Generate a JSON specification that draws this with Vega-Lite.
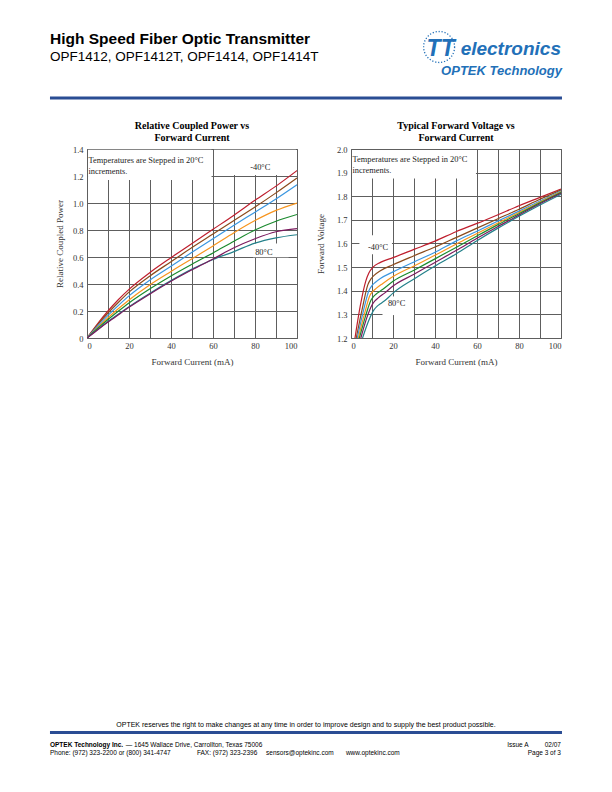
{
  "$schema": "https://vega.github.io/schema/vega-lite/v6.json",
  "background": "white",
  "padding": {"left": 48, "top": 28, "right": 5, "bottom": 5},
  "config": {
    "view": {"stroke": "#5a5a5a", "strokeWidth": 1},
    "axis": {"domain": false, "ticks": false, "grid": true, "gridColor": "#5e5e5e", "gridWidth": 1, "labelFont": "Liberation Serif", "labelFontSize": 8.5, "labelColor": "#333", "titleFont": "Liberation Serif", "titleFontSize": 9, "titleFontWeight": "normal", "titleColor": "#333", "labelPadding": 4}
  },
  "datasets": {
    "pw": [
      {"t":"-40","i":0,"p":0},{"t":"-40","i":5,"p":0.105},{"t":"-40","i":10,"p":0.2},{"t":"-40","i":15,"p":0.285},{"t":"-40","i":20,"p":0.36},{"t":"-40","i":30,"p":0.485},{"t":"-40","i":40,"p":0.595},{"t":"-40","i":50,"p":0.7},{"t":"-40","i":60,"p":0.805},{"t":"-40","i":70,"p":0.91},{"t":"-40","i":80,"p":1.02},{"t":"-40","i":90,"p":1.125},{"t":"-40","i":100,"p":1.24},
      {"t":"-20","i":0,"p":0},{"t":"-20","i":5,"p":0.097},{"t":"-20","i":10,"p":0.185},{"t":"-20","i":15,"p":0.265},{"t":"-20","i":20,"p":0.34},{"t":"-20","i":30,"p":0.46},{"t":"-20","i":40,"p":0.565},{"t":"-20","i":50,"p":0.67},{"t":"-20","i":60,"p":0.77},{"t":"-20","i":70,"p":0.87},{"t":"-20","i":80,"p":0.97},{"t":"-20","i":90,"p":1.075},{"t":"-20","i":100,"p":1.185},
      {"t":"0","i":0,"p":0},{"t":"0","i":5,"p":0.087},{"t":"0","i":10,"p":0.168},{"t":"0","i":15,"p":0.242},{"t":"0","i":20,"p":0.312},{"t":"0","i":30,"p":0.43},{"t":"0","i":40,"p":0.532},{"t":"0","i":50,"p":0.635},{"t":"0","i":60,"p":0.735},{"t":"0","i":70,"p":0.835},{"t":"0","i":80,"p":0.932},{"t":"0","i":90,"p":1.03},{"t":"0","i":100,"p":1.135},
      {"t":"20","i":0,"p":0},{"t":"20","i":5,"p":0.077},{"t":"20","i":10,"p":0.15},{"t":"20","i":15,"p":0.218},{"t":"20","i":20,"p":0.282},{"t":"20","i":30,"p":0.395},{"t":"20","i":40,"p":0.493},{"t":"20","i":50,"p":0.587},{"t":"20","i":60,"p":0.682},{"t":"20","i":70,"p":0.78},{"t":"20","i":80,"p":0.87},{"t":"20","i":90,"p":0.945},{"t":"20","i":100,"p":1.0},
      {"t":"40","i":0,"p":0},{"t":"40","i":5,"p":0.07},{"t":"40","i":10,"p":0.137},{"t":"40","i":15,"p":0.2},{"t":"40","i":20,"p":0.26},{"t":"40","i":30,"p":0.365},{"t":"40","i":40,"p":0.46},{"t":"40","i":50,"p":0.547},{"t":"40","i":60,"p":0.63},{"t":"40","i":70,"p":0.717},{"t":"40","i":80,"p":0.8},{"t":"40","i":90,"p":0.865},{"t":"40","i":100,"p":0.915},
      {"t":"80","i":0,"p":0},{"t":"80","i":5,"p":0.062},{"t":"80","i":10,"p":0.122},{"t":"80","i":15,"p":0.178},{"t":"80","i":20,"p":0.232},{"t":"80","i":30,"p":0.332},{"t":"80","i":40,"p":0.425},{"t":"80","i":50,"p":0.51},{"t":"80","i":60,"p":0.582},{"t":"80","i":70,"p":0.64},{"t":"80","i":80,"p":0.703},{"t":"80","i":90,"p":0.742},{"t":"80","i":100,"p":0.765},
      {"t":"60","i":0,"p":0},{"t":"60","i":5,"p":0.06},{"t":"60","i":10,"p":0.118},{"t":"60","i":15,"p":0.173},{"t":"60","i":20,"p":0.227},{"t":"60","i":30,"p":0.326},{"t":"60","i":40,"p":0.42},{"t":"60","i":50,"p":0.505},{"t":"60","i":60,"p":0.585},{"t":"60","i":70,"p":0.668},{"t":"60","i":80,"p":0.735},{"t":"60","i":90,"p":0.787},{"t":"60","i":100,"p":0.81}
    ],
    "fv": [
      {"t":"-40","i":1.9,"v":1.2},{"t":"-40","i":4.5,"v":1.34},{"t":"-40","i":7,"v":1.44},{"t":"-40","i":8.5,"v":1.475},{"t":"-40","i":10.5,"v":1.5},{"t":"-40","i":14,"v":1.52},{"t":"-40","i":20,"v":1.54},{"t":"-40","i":30,"v":1.575},{"t":"-40","i":40,"v":1.61},{"t":"-40","i":50,"v":1.65},{"t":"-40","i":60,"v":1.685},{"t":"-40","i":70,"v":1.722},{"t":"-40","i":80,"v":1.76},{"t":"-40","i":90,"v":1.795},{"t":"-40","i":100,"v":1.83},
      {"t":"-20","i":2.5,"v":1.2},{"t":"-20","i":5.5,"v":1.33},{"t":"-20","i":8,"v":1.425},{"t":"-20","i":9.5,"v":1.45},{"t":"-20","i":11,"v":1.465},{"t":"-20","i":14,"v":1.485},{"t":"-20","i":20,"v":1.51},{"t":"-20","i":30,"v":1.548},{"t":"-20","i":40,"v":1.585},{"t":"-20","i":50,"v":1.625},{"t":"-20","i":60,"v":1.665},{"t":"-20","i":70,"v":1.705},{"t":"-20","i":80,"v":1.745},{"t":"-20","i":90,"v":1.787},{"t":"-20","i":100,"v":1.826},
      {"t":"0","i":3,"v":1.2},{"t":"0","i":6,"v":1.318},{"t":"0","i":8.5,"v":1.4},{"t":"0","i":10,"v":1.422},{"t":"0","i":11.5,"v":1.435},{"t":"0","i":14,"v":1.452},{"t":"0","i":20,"v":1.48},{"t":"0","i":30,"v":1.522},{"t":"0","i":40,"v":1.563},{"t":"0","i":50,"v":1.61},{"t":"0","i":60,"v":1.652},{"t":"0","i":70,"v":1.695},{"t":"0","i":80,"v":1.737},{"t":"0","i":90,"v":1.78},{"t":"0","i":100,"v":1.822},
      {"t":"20","i":3.5,"v":1.2},{"t":"20","i":6.5,"v":1.305},{"t":"20","i":9,"v":1.38},{"t":"20","i":10.5,"v":1.398},{"t":"20","i":12,"v":1.41},{"t":"20","i":15,"v":1.43},{"t":"20","i":20,"v":1.46},{"t":"20","i":30,"v":1.505},{"t":"20","i":40,"v":1.55},{"t":"20","i":50,"v":1.597},{"t":"20","i":60,"v":1.642},{"t":"20","i":70,"v":1.687},{"t":"20","i":80,"v":1.731},{"t":"20","i":90,"v":1.776},{"t":"20","i":100,"v":1.819},
      {"t":"40","i":4,"v":1.2},{"t":"40","i":7,"v":1.295},{"t":"40","i":9.5,"v":1.36},{"t":"40","i":11,"v":1.378},{"t":"40","i":12.5,"v":1.39},{"t":"40","i":15,"v":1.405},{"t":"40","i":20,"v":1.44},{"t":"40","i":30,"v":1.487},{"t":"40","i":40,"v":1.535},{"t":"40","i":50,"v":1.583},{"t":"40","i":60,"v":1.632},{"t":"40","i":70,"v":1.68},{"t":"40","i":80,"v":1.726},{"t":"40","i":90,"v":1.772},{"t":"40","i":100,"v":1.816},
      {"t":"60","i":4.7,"v":1.2},{"t":"60","i":7.5,"v":1.285},{"t":"60","i":10,"v":1.34},{"t":"60","i":11.5,"v":1.358},{"t":"60","i":13,"v":1.37},{"t":"60","i":16,"v":1.39},{"t":"60","i":20,"v":1.42},{"t":"60","i":30,"v":1.47},{"t":"60","i":40,"v":1.52},{"t":"60","i":50,"v":1.57},{"t":"60","i":60,"v":1.622},{"t":"60","i":70,"v":1.672},{"t":"60","i":80,"v":1.72},{"t":"60","i":90,"v":1.768},{"t":"60","i":100,"v":1.812},
      {"t":"80","i":5.5,"v":1.2},{"t":"80","i":8.5,"v":1.275},{"t":"80","i":11,"v":1.32},{"t":"80","i":12.5,"v":1.335},{"t":"80","i":14,"v":1.345},{"t":"80","i":17,"v":1.365},{"t":"80","i":20,"v":1.39},{"t":"80","i":30,"v":1.45},{"t":"80","i":40,"v":1.505},{"t":"80","i":50,"v":1.556},{"t":"80","i":60,"v":1.612},{"t":"80","i":70,"v":1.665},{"t":"80","i":80,"v":1.715},{"t":"80","i":90,"v":1.763},{"t":"80","i":100,"v":1.808}
    ]
  },
  "spacing": 352,
  "vconcat": [
    {
      "spacing": 20,
      "vconcat": [
        {
          "width": 512, "height": 70,
          "view": {"stroke": null},
          "layer": [
            {"data": {"values": [{"s": "High Speed Fiber Optic Transmitter"}]},
             "mark": {"type": "text", "align": "left", "baseline": "alphabetic", "font": "Liberation Sans", "fontSize": 15.5, "fontWeight": "bold", "color": "#000"},
             "encoding": {"text": {"field": "s"}, "x": {"datum": 0, "type": "quantitative", "scale": {"domain": [0.0723, 1.0723], "nice": false}, "axis": null}, "y": {"datum": 0.8, "type": "quantitative", "scale": {"domain": [0, 1], "nice": false}, "axis": null}}},
            {"data": {"values": [{"s": "OPF1412, OPF1412T, OPF1414, OPF1414T"}]},
             "mark": {"type": "text", "align": "left", "baseline": "alphabetic", "font": "Liberation Sans", "fontSize": 13.5, "color": "#000"},
             "encoding": {"text": {"field": "s"}, "x": {"datum": 0, "type": "quantitative", "scale": {"domain": [0.0723, 1.0723], "nice": false}, "axis": null}, "y": {"datum": 0.564, "type": "quantitative", "scale": {"domain": [0, 1], "nice": false}, "axis": null}}},
            {"data": {"values": [{"s": "logo"}]},
             "mark": {"type": "point", "shape": "circle", "filled": false, "size": 960, "stroke": "#2270B8", "strokeWidth": 1.3, "strokeDash": [1.2, 1.8], "opacity": 1},
             "encoding": {"x": {"datum": 0.76, "type": "quantitative", "scale": {"domain": [0.0723, 1.0723], "nice": false}, "axis": null}, "y": {"datum": 0.757, "type": "quantitative", "scale": {"domain": [0, 1], "nice": false}, "axis": null}}},
            {"data": {"values": [{"s": "TT"}]},
             "mark": {"type": "text", "align": "center", "baseline": "alphabetic", "font": "Liberation Sans", "fontSize": 23, "fontWeight": "bold", "fontStyle": "italic", "color": "#2270B8"},
             "encoding": {"text": {"field": "s"}, "x": {"datum": 0.763, "type": "quantitative", "scale": {"domain": [0.0723, 1.0723], "nice": false}, "axis": null}, "y": {"datum": 0.63, "type": "quantitative", "scale": {"domain": [0, 1], "nice": false}, "axis": null}}},
            {"data": {"values": [{"s": "electronics"}]},
             "mark": {"type": "text", "align": "right", "baseline": "alphabetic", "font": "Liberation Sans", "fontSize": 19, "fontWeight": "bold", "fontStyle": "italic", "color": "#2270B8"},
             "encoding": {"text": {"field": "s"}, "x": {"datum": 0.998, "type": "quantitative", "scale": {"domain": [0.0723, 1.0723], "nice": false}, "axis": null}, "y": {"datum": 0.647, "type": "quantitative", "scale": {"domain": [0, 1], "nice": false}, "axis": null}}},
            {"data": {"values": [{"s": "OPTEK Technology"}]},
             "mark": {"type": "text", "align": "right", "baseline": "alphabetic", "font": "Liberation Sans", "fontSize": 13, "fontWeight": "bold", "fontStyle": "italic", "color": "#2270B8"},
             "encoding": {"text": {"field": "s"}, "x": {"datum": 1.0, "type": "quantitative", "scale": {"domain": [0.0723, 1.0723], "nice": false}, "axis": null}, "y": {"datum": 0.361, "type": "quantitative", "scale": {"domain": [0, 1], "nice": false}, "axis": null}}},
            {"data": {"values": [{"s": "rule"}]},
             "mark": {"type": "rule", "stroke": "#2A4D94", "strokeWidth": 3},
             "encoding": {"x": {"datum": 0, "type": "quantitative", "scale": {"domain": [0.0723, 1.0723], "nice": false}, "axis": null}, "x2": {"datum": 1.0}, "y": {"datum": 0.03, "type": "quantitative", "scale": {"domain": [0, 1], "nice": false}, "axis": null}}}
          ]
        },
        {
          "spacing": 17,
          "hconcat": [
            {
              "width": 210, "height": 189,
              "title": {"text": ["Relative Coupled Power vs", "Forward Current"], "font": "Liberation Serif", "fontSize": 10, "fontWeight": "bold", "color": "#000", "lineHeight": 11.5, "offset": 2.5},
              "layer": [
                {"data": {"values": [{"s": "box"}]}, "mark": {"type": "rect", "fill": "white", "stroke": null},
                 "encoding": {
                   "x": {"datum": 0.5, "type": "quantitative", "scale": {"domain": [0, 100], "nice": false}, "axis": {"values": [0,10,20,30,40,50,60,70,80,90,100], "labelExpr": "datum.value % 20 === 0 ? datum.label : ''", "labelPadding": 3, "titlePadding": 8, "title": "Forward Current (mA)"}},
                   "x2": {"datum": 59.3},
                   "y": {"datum": 1.17, "type": "quantitative", "scale": {"domain": [0, 1.4], "nice": false}, "axis": {"values": [0,0.2,0.4,0.6,0.8,1,1.2,1.4], "labelExpr": "datum.value === 0 ? '0' : format(datum.value, '.1f')", "titlePadding": 8, "title": "Relative Coupled Power"}},
                   "y2": {"datum": 1.395}}},
                {"data": {"values": [{"s": "box"}]}, "mark": {"type": "rect", "fill": "white", "stroke": null},
                 "encoding": {
                   "x": {"datum": 60.5, "type": "quantitative", "scale": {"domain": [0, 100], "nice": false}, "axis": {"values": [0,10,20,30,40,50,60,70,80,90,100], "labelExpr": "datum.value % 20 === 0 ? datum.label : ''", "labelPadding": 3, "titlePadding": 8, "title": "Forward Current (mA)"}},
                   "x2": {"datum": 99.5},
                   "y": {"datum": 1.207, "type": "quantitative", "scale": {"domain": [0, 1.4], "nice": false}, "axis": {"values": [0,0.2,0.4,0.6,0.8,1,1.2,1.4], "labelExpr": "datum.value === 0 ? '0' : format(datum.value, '.1f')", "titlePadding": 8, "title": "Relative Coupled Power"}},
                   "y2": {"datum": 1.395}}},
                {"data": {"values": [{"s": "box"}]}, "mark": {"type": "rect", "fill": "white", "stroke": null},
                 "encoding": {
                   "x": {"datum": 79, "type": "quantitative", "scale": {"domain": [0, 100], "nice": false}, "axis": {"values": [0,10,20,30,40,50,60,70,80,90,100], "labelExpr": "datum.value % 20 === 0 ? datum.label : ''", "labelPadding": 3, "titlePadding": 8, "title": "Forward Current (mA)"}},
                   "x2": {"datum": 96},
                   "y": {"datum": 0.598, "type": "quantitative", "scale": {"domain": [0, 1.4], "nice": false}, "axis": {"values": [0,0.2,0.4,0.6,0.8,1,1.2,1.4], "labelExpr": "datum.value === 0 ? '0' : format(datum.value, '.1f')", "titlePadding": 8, "title": "Relative Coupled Power"}},
                   "y2": {"datum": 0.7}}},
                {"data": {"name": "pw"},
                 "mark": {"type": "line", "strokeWidth": 1.2, "interpolate": "monotone", "clip": true},
                 "encoding": {
                   "x": {"field": "i", "type": "quantitative", "scale": {"domain": [0, 100], "nice": false}, "axis": {"values": [0,10,20,30,40,50,60,70,80,90,100], "labelExpr": "datum.value % 20 === 0 ? datum.label : ''", "labelPadding": 3, "titlePadding": 8, "title": "Forward Current (mA)"}},
                   "y": {"field": "p", "type": "quantitative", "scale": {"domain": [0, 1.4], "nice": false}, "axis": {"values": [0,0.2,0.4,0.6,0.8,1,1.2,1.4], "labelExpr": "datum.value === 0 ? '0' : format(datum.value, '.1f')", "titlePadding": 8, "title": "Relative Coupled Power"}},
                   "color": {"field": "t", "type": "nominal", "scale": {"domain": ["-40","-20","0","20","40","60","80"], "range": ["#BE1E2D","#8B4A1C","#3A96E0","#F7941D","#1A8A2E","#7B1A5E","#23808A"]}, "legend": null}
                 }},
                {"data": {"values": [{"s": ["Temperatures are Stepped in 20°C", "increments."]}]},
                 "mark": {"type": "text", "align": "left", "baseline": "top", "font": "Liberation Serif", "fontSize": 8.4, "lineHeight": 11, "color": "#222"},
                 "encoding": {"text": {"field": "s"},
                   "x": {"datum": 0.7, "type": "quantitative", "scale": {"domain": [0, 100], "nice": false}, "axis": {"values": [0,10,20,30,40,50,60,70,80,90,100], "labelExpr": "datum.value % 20 === 0 ? datum.label : ''", "labelPadding": 3, "titlePadding": 8, "title": "Forward Current (mA)"}},
                   "y": {"datum": 1.345, "type": "quantitative", "scale": {"domain": [0, 1.4], "nice": false}, "axis": {"values": [0,0.2,0.4,0.6,0.8,1,1.2,1.4], "labelExpr": "datum.value === 0 ? '0' : format(datum.value, '.1f')", "titlePadding": 8, "title": "Relative Coupled Power"}}}},
                {"data": {"values": [{"s": "-40°C"}]},
                 "mark": {"type": "text", "align": "center", "baseline": "middle", "font": "Liberation Serif", "fontSize": 8.4, "color": "#222"},
                 "encoding": {"text": {"field": "s"},
                   "x": {"datum": 82.5, "type": "quantitative", "scale": {"domain": [0, 100], "nice": false}, "axis": {"values": [0,10,20,30,40,50,60,70,80,90,100], "labelExpr": "datum.value % 20 === 0 ? datum.label : ''", "labelPadding": 3, "titlePadding": 8, "title": "Forward Current (mA)"}},
                   "y": {"datum": 1.267, "type": "quantitative", "scale": {"domain": [0, 1.4], "nice": false}, "axis": {"values": [0,0.2,0.4,0.6,0.8,1,1.2,1.4], "labelExpr": "datum.value === 0 ? '0' : format(datum.value, '.1f')", "titlePadding": 8, "title": "Relative Coupled Power"}}}},
                {"data": {"values": [{"s": "80°C"}]},
                 "mark": {"type": "text", "align": "center", "baseline": "middle", "font": "Liberation Serif", "fontSize": 8.4, "color": "#222"},
                 "encoding": {"text": {"field": "s"},
                   "x": {"datum": 84.2, "type": "quantitative", "scale": {"domain": [0, 100], "nice": false}, "axis": {"values": [0,10,20,30,40,50,60,70,80,90,100], "labelExpr": "datum.value % 20 === 0 ? datum.label : ''", "labelPadding": 3, "titlePadding": 8, "title": "Forward Current (mA)"}},
                   "y": {"datum": 0.64, "type": "quantitative", "scale": {"domain": [0, 1.4], "nice": false}, "axis": {"values": [0,0.2,0.4,0.6,0.8,1,1.2,1.4], "labelExpr": "datum.value === 0 ? '0' : format(datum.value, '.1f')", "titlePadding": 8, "title": "Relative Coupled Power"}}}}
              ]
            },
            {
              "width": 210, "height": 189,
              "title": {"text": ["Typical Forward Voltage vs", "Forward Current"], "font": "Liberation Serif", "fontSize": 10, "fontWeight": "bold", "color": "#000", "lineHeight": 11.5, "offset": 2.5},
              "layer": [
                {"data": {"values": [{"s": "box"}]}, "mark": {"type": "rect", "fill": "white", "stroke": null},
                 "encoding": {
                   "x": {"datum": 0.5, "type": "quantitative", "scale": {"domain": [0, 100], "nice": false}, "axis": {"values": [0,10,20,30,40,50,60,70,80,90,100], "labelExpr": "datum.value % 20 === 0 ? datum.label : ''", "labelPadding": 3, "titlePadding": 8, "title": "Forward Current (mA)"}},
                   "x2": {"datum": 59.5},
                   "y": {"datum": 1.875, "type": "quantitative", "scale": {"domain": [1.2, 2.0], "nice": false, "zero": false}, "axis": {"values": [1.2,1.3,1.4,1.5,1.6,1.7,1.8,1.9,2.0], "format": ".1f", "titlePadding": 11, "title": "Forward Voltage"}},
                   "y2": {"datum": 1.996}}},
                {"data": {"values": [{"s": "box"}]}, "mark": {"type": "rect", "fill": "white", "stroke": null},
                 "encoding": {
                   "x": {"datum": 4, "type": "quantitative", "scale": {"domain": [0, 100], "nice": false}, "axis": {"values": [0,10,20,30,40,50,60,70,80,90,100], "labelExpr": "datum.value % 20 === 0 ? datum.label : ''", "labelPadding": 3, "titlePadding": 8, "title": "Forward Current (mA)"}},
                   "x2": {"datum": 19.5},
                   "y": {"datum": 1.555, "type": "quantitative", "scale": {"domain": [1.2, 2.0], "nice": false, "zero": false}, "axis": {"values": [1.2,1.3,1.4,1.5,1.6,1.7,1.8,1.9,2.0], "format": ".1f", "titlePadding": 11, "title": "Forward Voltage"}},
                   "y2": {"datum": 1.635}}},
                {"data": {"values": [{"s": "box"}]}, "mark": {"type": "rect", "fill": "white", "stroke": null},
                 "encoding": {
                   "x": {"datum": 15, "type": "quantitative", "scale": {"domain": [0, 100], "nice": false}, "axis": {"values": [0,10,20,30,40,50,60,70,80,90,100], "labelExpr": "datum.value % 20 === 0 ? datum.label : ''", "labelPadding": 3, "titlePadding": 8, "title": "Forward Current (mA)"}},
                   "x2": {"datum": 30},
                   "y": {"datum": 1.297, "type": "quantitative", "scale": {"domain": [1.2, 2.0], "nice": false, "zero": false}, "axis": {"values": [1.2,1.3,1.4,1.5,1.6,1.7,1.8,1.9,2.0], "format": ".1f", "titlePadding": 11, "title": "Forward Voltage"}},
                   "y2": {"datum": 1.376}}},
                {"data": {"name": "fv"},
                 "mark": {"type": "line", "strokeWidth": 1.2, "interpolate": "monotone", "clip": true},
                 "encoding": {
                   "x": {"field": "i", "type": "quantitative", "scale": {"domain": [0, 100], "nice": false}, "axis": {"values": [0,10,20,30,40,50,60,70,80,90,100], "labelExpr": "datum.value % 20 === 0 ? datum.label : ''", "labelPadding": 3, "titlePadding": 8, "title": "Forward Current (mA)"}},
                   "y": {"field": "v", "type": "quantitative", "scale": {"domain": [1.2, 2.0], "nice": false, "zero": false}, "axis": {"values": [1.2,1.3,1.4,1.5,1.6,1.7,1.8,1.9,2.0], "format": ".1f", "titlePadding": 11, "title": "Forward Voltage"}},
                   "color": {"field": "t", "type": "nominal", "scale": {"domain": ["-40","-20","0","20","40","60","80"], "range": ["#BE1E2D","#8B4A1C","#3A96E0","#F7941D","#1A8A2E","#7B1A5E","#23808A"]}, "legend": null}
                 }},
                {"data": {"values": [{"s": ["Temperatures are Stepped in 20°C", "increments."]}]},
                 "mark": {"type": "text", "align": "left", "baseline": "top", "font": "Liberation Serif", "fontSize": 8.4, "lineHeight": 10.6, "color": "#222"},
                 "encoding": {"text": {"field": "s"},
                   "x": {"datum": 0.7, "type": "quantitative", "scale": {"domain": [0, 100], "nice": false}, "axis": {"values": [0,10,20,30,40,50,60,70,80,90,100], "labelExpr": "datum.value % 20 === 0 ? datum.label : ''", "labelPadding": 3, "titlePadding": 8, "title": "Forward Current (mA)"}},
                   "y": {"datum": 1.974, "type": "quantitative", "scale": {"domain": [1.2, 2.0], "nice": false, "zero": false}, "axis": {"values": [1.2,1.3,1.4,1.5,1.6,1.7,1.8,1.9,2.0], "format": ".1f", "titlePadding": 11, "title": "Forward Voltage"}}}},
                {"data": {"values": [{"s": "-40°C"}]},
                 "mark": {"type": "text", "align": "center", "baseline": "middle", "font": "Liberation Serif", "fontSize": 8.4, "color": "#222"},
                 "encoding": {"text": {"field": "s"},
                   "x": {"datum": 12.9, "type": "quantitative", "scale": {"domain": [0, 100], "nice": false}, "axis": {"values": [0,10,20,30,40,50,60,70,80,90,100], "labelExpr": "datum.value % 20 === 0 ? datum.label : ''", "labelPadding": 3, "titlePadding": 8, "title": "Forward Current (mA)"}},
                   "y": {"datum": 1.584, "type": "quantitative", "scale": {"domain": [1.2, 2.0], "nice": false, "zero": false}, "axis": {"values": [1.2,1.3,1.4,1.5,1.6,1.7,1.8,1.9,2.0], "format": ".1f", "titlePadding": 11, "title": "Forward Voltage"}}}},
                {"data": {"values": [{"s": "80°C"}]},
                 "mark": {"type": "text", "align": "center", "baseline": "middle", "font": "Liberation Serif", "fontSize": 8.4, "color": "#222"},
                 "encoding": {"text": {"field": "s"},
                   "x": {"datum": 21.7, "type": "quantitative", "scale": {"domain": [0, 100], "nice": false}, "axis": {"values": [0,10,20,30,40,50,60,70,80,90,100], "labelExpr": "datum.value % 20 === 0 ? datum.label : ''", "labelPadding": 3, "titlePadding": 8, "title": "Forward Current (mA)"}},
                   "y": {"datum": 1.349, "type": "quantitative", "scale": {"domain": [1.2, 2.0], "nice": false, "zero": false}, "axis": {"values": [1.2,1.3,1.4,1.5,1.6,1.7,1.8,1.9,2.0], "format": ".1f", "titlePadding": 11, "title": "Forward Voltage"}}}}
              ]
            }
          ]
        }
      ]
    },
    {
      "width": 512, "height": 40,
      "view": {"stroke": null},
      "layer": [
        {"data": {"values": [{"s": "OPTEK reserves the right to make changes at any time in order to improve design and to supply the best product possible."}]},
         "mark": {"type": "text", "align": "center", "baseline": "alphabetic", "font": "Liberation Sans", "fontSize": 7, "color": "#000"},
         "encoding": {"text": {"field": "s"}, "x": {"datum": 0.5, "type": "quantitative", "scale": {"domain": [0.0723, 1.0723], "nice": false}, "axis": null}, "y": {"datum": 0.8125, "type": "quantitative", "scale": {"domain": [0, 1], "nice": false}, "axis": null}}},
        {"data": {"values": [{"s": "rule"}]},
         "mark": {"type": "rule", "stroke": "#2A4D94", "strokeWidth": 3},
         "encoding": {"x": {"datum": 0, "type": "quantitative", "scale": {"domain": [0.0723, 1.0723], "nice": false}, "axis": null}, "x2": {"datum": 1.0}, "y": {"datum": 0.6625, "type": "quantitative", "scale": {"domain": [0, 1], "nice": false}, "axis": null}}},
        {"data": {"values": [{"s": "OPTEK Technology Inc."}]},
         "mark": {"type": "text", "align": "left", "baseline": "alphabetic", "font": "Liberation Sans", "fontSize": 6.5, "fontWeight": "bold", "color": "#000"},
         "encoding": {"text": {"field": "s"}, "x": {"datum": 0, "type": "quantitative", "scale": {"domain": [0.0723, 1.0723], "nice": false}, "axis": null}, "y": {"datum": 0.3125, "type": "quantitative", "scale": {"domain": [0, 1], "nice": false}, "axis": null}}},
        {"data": {"values": [{"s": "— 1645 Wallace Drive, Carrollton, Texas 75006"}]},
         "mark": {"type": "text", "align": "left", "baseline": "alphabetic", "font": "Liberation Sans", "fontSize": 6.5, "color": "#000"},
         "encoding": {"text": {"field": "s"}, "x": {"datum": 0.148, "type": "quantitative", "scale": {"domain": [0.0723, 1.0723], "nice": false}, "axis": null}, "y": {"datum": 0.3125, "type": "quantitative", "scale": {"domain": [0, 1], "nice": false}, "axis": null}}},
        {"data": {"values": [{"s": "Phone: (972) 323-2200 or (800) 341-4747"}]},
         "mark": {"type": "text", "align": "left", "baseline": "alphabetic", "font": "Liberation Sans", "fontSize": 6.5, "color": "#000"},
         "encoding": {"text": {"field": "s"}, "x": {"datum": 0, "type": "quantitative", "scale": {"domain": [0.0723, 1.0723], "nice": false}, "axis": null}, "y": {"datum": 0.1, "type": "quantitative", "scale": {"domain": [0, 1], "nice": false}, "axis": null}}},
        {"data": {"values": [{"s": "FAX: (972) 323-2396"}]},
         "mark": {"type": "text", "align": "left", "baseline": "alphabetic", "font": "Liberation Sans", "fontSize": 6.5, "color": "#000"},
         "encoding": {"text": {"field": "s"}, "x": {"datum": 0.287, "type": "quantitative", "scale": {"domain": [0.0723, 1.0723], "nice": false}, "axis": null}, "y": {"datum": 0.1, "type": "quantitative", "scale": {"domain": [0, 1], "nice": false}, "axis": null}}},
        {"data": {"values": [{"s": "sensors@optekinc.com"}]},
         "mark": {"type": "text", "align": "left", "baseline": "alphabetic", "font": "Liberation Sans", "fontSize": 6.5, "color": "#000"},
         "encoding": {"text": {"field": "s"}, "x": {"datum": 0.422, "type": "quantitative", "scale": {"domain": [0.0723, 1.0723], "nice": false}, "axis": null}, "y": {"datum": 0.1, "type": "quantitative", "scale": {"domain": [0, 1], "nice": false}, "axis": null}}},
        {"data": {"values": [{"s": "www.optekinc.com"}]},
         "mark": {"type": "text", "align": "left", "baseline": "alphabetic", "font": "Liberation Sans", "fontSize": 6.5, "color": "#000"},
         "encoding": {"text": {"field": "s"}, "x": {"datum": 0.578, "type": "quantitative", "scale": {"domain": [0.0723, 1.0723], "nice": false}, "axis": null}, "y": {"datum": 0.1, "type": "quantitative", "scale": {"domain": [0, 1], "nice": false}, "axis": null}}},
        {"data": {"values": [{"s": "Issue A"}]},
         "mark": {"type": "text", "align": "left", "baseline": "alphabetic", "font": "Liberation Sans", "fontSize": 6.5, "color": "#000"},
         "encoding": {"text": {"field": "s"}, "x": {"datum": 0.893, "type": "quantitative", "scale": {"domain": [0.0723, 1.0723], "nice": false}, "axis": null}, "y": {"datum": 0.3125, "type": "quantitative", "scale": {"domain": [0, 1], "nice": false}, "axis": null}}},
        {"data": {"values": [{"s": "02/07"}]},
         "mark": {"type": "text", "align": "right", "baseline": "alphabetic", "font": "Liberation Sans", "fontSize": 6.5, "color": "#000"},
         "encoding": {"text": {"field": "s"}, "x": {"datum": 0.998, "type": "quantitative", "scale": {"domain": [0.0723, 1.0723], "nice": false}, "axis": null}, "y": {"datum": 0.3125, "type": "quantitative", "scale": {"domain": [0, 1], "nice": false}, "axis": null}}},
        {"data": {"values": [{"s": "Page 3 of 3"}]},
         "mark": {"type": "text", "align": "right", "baseline": "alphabetic", "font": "Liberation Sans", "fontSize": 6.5, "color": "#000"},
         "encoding": {"text": {"field": "s"}, "x": {"datum": 0.998, "type": "quantitative", "scale": {"domain": [0.0723, 1.0723], "nice": false}, "axis": null}, "y": {"datum": 0.1, "type": "quantitative", "scale": {"domain": [0, 1], "nice": false}, "axis": null}}}
      ]
    }
  ]
}
